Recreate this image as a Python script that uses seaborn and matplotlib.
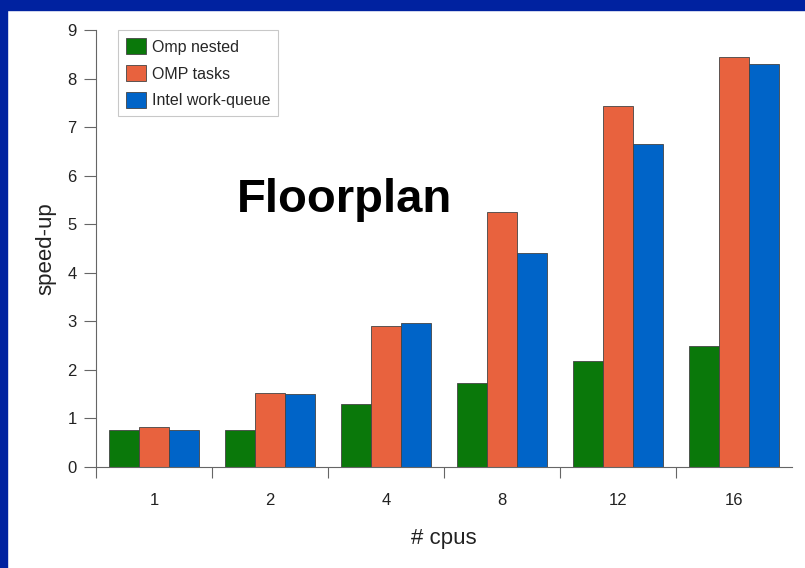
import numpy as np
import pandas as pd
import matplotlib
matplotlib.use("Agg")
import matplotlib.pyplot as plt
from matplotlib.patches import Rectangle
from matplotlib.ticker import FixedLocator
import seaborn as sns

# Werte
cpus = ["1", "2", "4", "8", "12", "16"]
omp_nested = [0.76, 0.76, 1.30, 1.72, 2.18, 2.50]
omp_tasks = [0.82, 1.52, 2.90, 5.25, 7.43, 8.45]
intel_wq = [0.76, 1.50, 2.97, 4.40, 6.65, 8.30]
serien = ["Omp nested", "OMP tasks", "Intel work-queue"]
farben = ["#0a780a", "#e8623e", "#0064c8"]

df = pd.DataFrame({
    "cpus": cpus * 3,
    "speedup": omp_nested + omp_tasks + intel_wq,
    "serie": np.repeat(serien, len(cpus)),
})

sns.set_theme(style="ticks")
plt.rcParams["font.family"] = ["Liberation Sans", "DejaVu Sans"]

fig = plt.figure(figsize=(8.05, 5.68), dpi=100)
fig.patch.set_facecolor("white")
# blauer Folienrand links und oben
fig.patches.append(Rectangle((0, 0), 7 / 805, 1, transform=fig.transFigure,
                             color="#0022a0", zorder=0))
fig.patches.append(Rectangle((0, 1 - 10 / 568), 1, 10 / 568, transform=fig.transFigure,
                             color="#0022a0", zorder=0))

ax = fig.add_axes([96 / 805, 1 - 467 / 568, 696 / 805, 437 / 568])
sns.barplot(data=df, x="cpus", y="speedup", hue="serie", order=cpus,
            hue_order=serien, palette=farben, width=0.78, saturation=1,
            edgecolor="#444444", linewidth=0.6, ax=ax)

ax.set_xlim(-0.5, 5.5)
ax.set_ylim(0, 9)
ax.set_yticks(range(10))
ax.xaxis.set_minor_locator(FixedLocator(np.arange(-0.5, 5.5, 1.0)))
ax.tick_params(axis="x", which="major", length=0, pad=19, labelsize=12, colors="#222222")
ax.tick_params(axis="x", which="minor", length=8, width=0.8, color="#666666")
ax.tick_params(axis="y", length=9, width=0.8, color="#666666", labelsize=12,
               pad=5, labelcolor="#222222")
for s in ["top", "right"]:
    ax.spines[s].set_visible(False)
for s in ["left", "bottom"]:
    ax.spines[s].set_color("#666666")
    ax.spines[s].set_linewidth(0.8)

ax.set_xlabel("# cpus", fontsize=16, labelpad=14, color="#222222")
ax.set_ylabel("speed-up", fontsize=16, labelpad=8, color="#222222")

leg = ax.legend(loc="upper left", bbox_to_anchor=(0.032, 1.0), fontsize=11.5,
                frameon=True, fancybox=False, edgecolor="#bbbbbb",
                borderaxespad=0, handlelength=1.25, handleheight=1.2,
                labelspacing=0.65, handletextpad=0.35, borderpad=0.5)
leg.get_frame().set_linewidth(0.8)

ax.text(0.2026, 0.5835, "Floorplan", transform=ax.transAxes, fontsize=34,
        fontweight="bold", color="black", ha="left", va="baseline")

fig.savefig("out.png", dpi=100)
